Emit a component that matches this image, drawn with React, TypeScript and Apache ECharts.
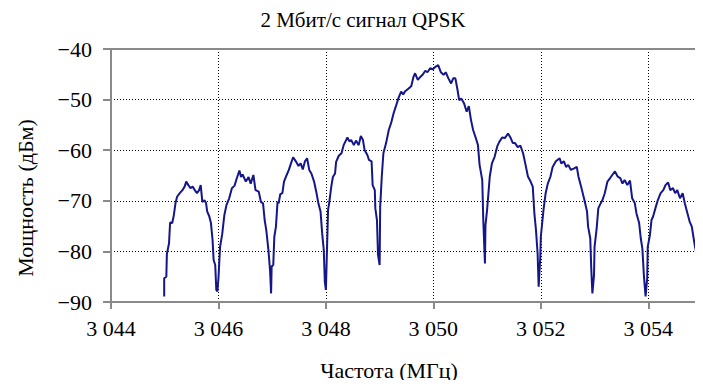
import React, { useEffect, useRef } from "react";
import * as echarts from "echarts";

const titleText = "2 Мбит/с сигнал QPSK";
const xName = "Частота (МГц)";
const yName = "Мощность (дБм)";

const freqMHz = [
  3044.99, 3044.99, 3045.03, 3045.04, 3045.08, 3045.10, 3045.14, 3045.17, 3045.20, 3045.23,
  3045.28, 3045.33, 3045.37, 3045.40, 3045.44, 3045.48, 3045.52, 3045.56, 3045.60, 3045.64,
  3045.67, 3045.70, 3045.74, 3045.77, 3045.79, 3045.83, 3045.86, 3045.89, 3045.91, 3045.94,
  3045.96, 3045.98, 3046.00, 3046.03, 3046.07, 3046.11, 3046.15, 3046.20, 3046.25, 3046.30,
  3046.34, 3046.39, 3046.42, 3046.45, 3046.51, 3046.56, 3046.60, 3046.65, 3046.69, 3046.75,
  3046.79, 3046.83, 3046.86, 3046.89, 3046.93, 3046.96, 3046.98, 3046.99, 3047.02, 3047.04,
  3047.07, 3047.10, 3047.12, 3047.15, 3047.19, 3047.22, 3047.27, 3047.31, 3047.35, 3047.39,
  3047.44, 3047.49, 3047.53, 3047.57, 3047.61, 3047.65, 3047.69, 3047.73, 3047.78, 3047.82,
  3047.86, 3047.90, 3047.93, 3047.96, 3047.98, 3048.00, 3048.02, 3048.04, 3048.06, 3048.10,
  3048.13, 3048.17, 3048.19, 3048.24, 3048.29, 3048.33, 3048.40, 3048.44, 3048.47, 3048.52,
  3048.56, 3048.61, 3048.65, 3048.69, 3048.72, 3048.77, 3048.80, 3048.85, 3048.87, 3048.91,
  3048.92, 3048.95, 3048.97, 3049.00, 3049.01, 3049.04, 3049.07, 3049.12, 3049.17, 3049.22,
  3049.26, 3049.30, 3049.35, 3049.40, 3049.44, 3049.47, 3049.54, 3049.59, 3049.63, 3049.66,
  3049.71, 3049.75, 3049.80, 3049.85, 3049.89, 3049.94, 3049.99, 3050.03, 3050.09, 3050.14,
  3050.19, 3050.23, 3050.28, 3050.33, 3050.37, 3050.41, 3050.45, 3050.48, 3050.52, 3050.57,
  3050.62, 3050.66, 3050.70, 3050.74, 3050.79, 3050.83, 3050.86, 3050.91, 3050.93, 3050.96,
  3050.97, 3051.00, 3051.05, 3051.09, 3051.14, 3051.19, 3051.23, 3051.28, 3051.33, 3051.39,
  3051.44, 3051.48, 3051.52, 3051.57, 3051.62, 3051.67, 3051.71, 3051.76, 3051.81, 3051.85,
  3051.88, 3051.91, 3051.94, 3051.96, 3051.99, 3052.00, 3052.05, 3052.09, 3052.13, 3052.18,
  3052.22, 3052.28, 3052.35, 3052.38, 3052.43, 3052.47, 3052.51, 3052.56, 3052.62, 3052.67,
  3052.70, 3052.75, 3052.81, 3052.86, 3052.88, 3052.92, 3052.94, 3052.96, 3052.99, 3053.00,
  3053.04, 3053.07, 3053.10, 3053.15, 3053.19, 3053.24, 3053.29, 3053.33, 3053.38, 3053.43,
  3053.48, 3053.52, 3053.56, 3053.61, 3053.66, 3053.70, 3053.75, 3053.78, 3053.83, 3053.86,
  3053.89, 3053.92, 3053.95, 3053.98, 3053.99, 3054.03, 3054.06, 3054.09, 3054.14, 3054.18,
  3054.23, 3054.28, 3054.32, 3054.37, 3054.41, 3054.46, 3054.50, 3054.54, 3054.59, 3054.64,
  3054.68, 3054.72, 3054.77, 3054.81, 3054.84, 3054.87, 3054.91, 3054.94, 3054.97,
];

const powerDbm = [
  -88.9, -85.3, -85.0, -80.5, -78.4, -74.3, -74.4, -72.8, -70.5, -69.2,
  -68.5, -67.9, -67.2, -66.2, -66.9, -67.5, -67.2, -67.9, -68.5, -67.9,
  -66.9, -70.2, -69.9, -70.5, -72.1, -73.1, -74.4, -77.7, -81.7, -82.7,
  -87.6, -87.9, -85.3, -79.1, -76.6, -72.8, -70.8, -69.5, -67.5, -67.0,
  -65.6, -64.0, -65.3, -64.8, -66.2, -65.3, -66.6, -64.9, -67.9, -68.2,
  -70.2, -70.5, -73.8, -75.8, -79.7, -83.7, -88.3, -83.0, -82.7, -77.1,
  -75.1, -70.2, -70.5, -68.7, -68.5, -66.2, -64.9, -63.9, -62.6, -61.4,
  -62.2, -63.1, -62.6, -63.8, -62.2, -61.6, -63.9, -64.6, -66.2, -68.2,
  -70.5, -72.1, -76.4, -79.7, -86.0, -87.6, -79.7, -71.8, -70.5, -67.2,
  -65.3, -64.6, -62.3, -61.1, -60.6, -59.0, -57.5, -58.3, -58.0, -59.0,
  -58.1, -59.0, -57.2, -58.0, -60.0, -60.9, -61.9, -62.2, -66.9, -67.9,
  -71.5, -73.8, -80.7, -82.7, -71.2, -65.2, -60.6, -58.6, -56.0, -54.4,
  -52.7, -51.4, -49.7, -48.4, -49.0, -48.4, -47.8, -47.3, -45.5, -44.8,
  -46.1, -45.6, -45.1, -44.3, -44.6, -43.8, -44.0, -43.6, -43.2, -44.6,
  -45.1, -44.6, -45.8, -46.8, -45.8, -45.8, -48.1, -50.1, -49.8, -50.7,
  -52.4, -51.3, -54.0, -56.0, -57.6, -59.0, -62.9, -65.9, -74.1, -82.4,
  -74.8, -71.8, -65.2, -62.6, -61.3, -59.2, -58.3, -57.5, -57.6, -56.7,
  -57.6, -58.6, -58.6, -59.4, -59.1, -60.6, -62.6, -65.2, -66.2, -67.2,
  -72.5, -75.8, -80.4, -87.0, -81.1, -77.1, -71.8, -68.5, -66.6, -65.2,
  -63.3, -62.2, -61.6, -62.6, -62.2, -63.3, -62.9, -63.9, -63.6, -63.3,
  -65.2, -67.2, -69.8, -72.1, -75.1, -77.4, -83.7, -88.3, -84.7, -79.1,
  -75.4, -71.5, -70.8, -69.8, -68.5, -66.2, -65.5, -64.9, -64.2, -65.2,
  -65.5, -66.6, -65.9, -66.9, -66.0, -69.5, -70.5, -72.5, -74.4, -77.4,
  -79.4, -85.0, -88.9, -85.3, -79.1, -76.8, -73.8, -73.1, -71.2, -69.8,
  -68.5, -67.9, -66.9, -66.4, -67.9, -67.5, -68.5, -67.9, -69.5, -68.5,
  -70.5, -72.1, -74.1, -75.1, -77.1, -79.1, -81.0, -85.0, -88.3,
];

const xMin = 3044;
const xMax = 3055;
const xStep = 2;
const yMin = -90;
const yMax = -40;
const yStep = 10;

const FONT = "Liberation Serif";
const AXIS_GRAY = "#8a8a8a";

export default function App() {
  const ref = useRef<HTMLDivElement>(null);
  useEffect(() => {
    if (!ref.current) return;
    const chart = echarts.init(ref.current, undefined, { renderer: "svg" });
    const data = freqMHz.map((f, i) => [f, powerDbm[i]]);
    const fmtX = (v: number) => {
      if (v >= xMax) return "";
      const s = String(Math.round(v));
      return s.slice(0, 1) + " " + s.slice(1);
    };
    const fmtY = (v: number) => (v < 0 ? "\u2212" : "") + Math.abs(v);
    const dotted = { color: "#000", width: 1, type: [1, 2] as number[] };
    chart.setOption({
      animation: false,
      backgroundColor: "#fff",
      title: {
        text: titleText,
        left: 358,
        textAlign: "center",
        top: 4,
        textStyle: { fontFamily: FONT, fontSize: 21, fontWeight: "normal", color: "#000" },
      },
      grid: { left: 111, right: 1, top: 49, bottom: 86, containLabel: false },
      xAxis: [
        {
          type: "value",
          min: xMin,
          max: xMax,
          interval: xStep,
          axisLine: { show: true, onZero: false, lineStyle: { color: AXIS_GRAY, width: 2 } },
          axisTick: { show: true, length: 7, lineStyle: { color: AXIS_GRAY, width: 2 } },
          axisLabel: {
            formatter: fmtX,
            fontFamily: FONT,
            fontWeight: "normal",
            fontSize: 22,
            color: "#000",
            margin: 15,
            showMaxLabel: false,
          },
          splitLine: { show: true, lineStyle: dotted },
        },
        {
          type: "value",
          position: "top",
          min: xMin,
          max: xMax,
          z: 5,
          axisLine: { show: true, onZero: false, lineStyle: { color: AXIS_GRAY, width: 2 } },
          axisTick: { show: false },
          axisLabel: { show: false },
          splitLine: { show: false },
        },
      ],
      yAxis: [
        {
          type: "value",
          min: yMin,
          max: yMax,
          interval: yStep,
          axisLine: { show: true, onZero: false, lineStyle: { color: AXIS_GRAY, width: 2 } },
          axisTick: { show: true, length: 8, lineStyle: { color: AXIS_GRAY, width: 2 } },
          axisLabel: {
            formatter: fmtY,
            fontFamily: FONT,
            fontWeight: "normal",
            fontSize: 22,
            color: "#000",
            margin: 19,
          },
          splitLine: { show: true, lineStyle: dotted },
        },
        {
          type: "value",
          position: "right",
          min: yMin,
          max: yMax,
          z: 5,
          axisLine: { show: true, onZero: false, lineStyle: { color: AXIS_GRAY, width: 2 } },
          axisTick: { show: false },
          axisLabel: { show: false },
          splitLine: { show: false },
        },
      ],
      graphic: [
        {
          type: "text",
          x: 389,
          y: 370,
          style: {
            text: xName,
            fontFamily: FONT,
            fontSize: 22,
            fill: "#000",
            textAlign: "center",
            textVerticalAlign: "middle",
          },
        },
        {
          type: "text",
          x: 25,
          y: 198,
          rotation: Math.PI / 2,
          style: {
            text: yName,
            fontFamily: FONT,
            fontSize: 22,
            fill: "#000",
            textAlign: "center",
            textVerticalAlign: "middle",
          },
        },
      ],
      series: [
        {
          type: "line",
          xAxisIndex: 0,
          yAxisIndex: 0,
          data,
          showSymbol: false,
          symbol: "none",
          lineStyle: { color: "#15168a", width: 2 },
          z: 3,
        },
      ],
    });
    return () => chart.dispose();
  }, []);
  return <div ref={ref} style={{ width: 703, height: 388, margin: -8 }} />;
}
